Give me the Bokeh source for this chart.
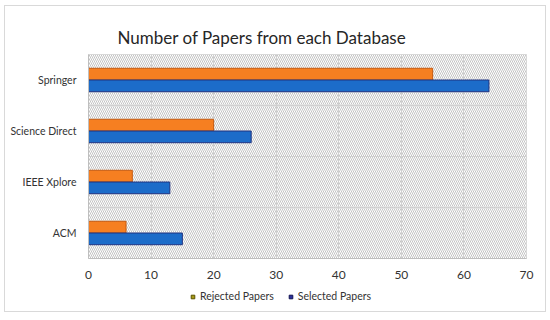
from bokeh.plotting import figure
from bokeh.layouts import column
from bokeh.models import Range1d, FixedTicker, BoxAnnotation, Legend, LegendItem, ColumnDataSource
from bokeh.embed import file_html
from bokeh.resources import INLINE

categories = ["ACM", "IEEE Xplore", "Science Direct", "Springer"]
rejected = [6, 7, 20, 55]
selected = [15, 13, 26, 64]
x_ticks = [0, 10, 20, 30, 40, 50, 60, 70]
series_names = ["Rejected Papers", "Selected Papers"]

FONT = "Lato"
TXT = "#333333"
pos = [i + 0.5 for i in range(len(categories))]

p = figure(width=540, height=276, output_backend="svg", toolbar_location=None,
           x_range=Range1d(0, 70), y_range=Range1d(0, 4),
           min_border_left=83, min_border_right=19, min_border_top=48, min_border_bottom=24)

p.title.text = "Number of Papers from each Database"
p.title.align = "left"
p.title.offset = 29
p.title.text_font = FONT
p.title.text_font_size = "17px"
p.title.text_font_style = "normal"
p.title.text_color = "#262626"
p.title.standoff = 14

# hatched background
bg = BoxAnnotation(left=0, right=70, bottom=0, top=4, fill_color="white", fill_alpha=1,
                   hatch_pattern="\\", hatch_color="#b5b5b5", hatch_scale=4, hatch_weight=0.8,
                   line_color=None, level="image")
p.add_layout(bg)

src = ColumnDataSource(dict(rej_pos=[q + 0.115 for q in pos], sel_pos=[q - 0.115 for q in pos],
                            rejected=rejected, selected=selected))
p.hbar(y="rej_pos", right="rejected", left=0, height=0.23, source=src,
       fill_color="#F67F21", line_color="#C55A11", line_width=1)
p.hbar(y="sel_pos", right="selected", left=0, height=0.23, source=src,
       fill_color="#1C6CC9", line_color="#1F3380", line_width=1)

p.xaxis.ticker = FixedTicker(ticks=x_ticks)
p.xaxis.axis_line_color = "#BFBFBF"
p.xaxis.major_tick_line_color = None
p.xaxis.minor_tick_line_color = None
p.xaxis.major_label_text_font = FONT
p.xaxis.major_label_text_font_size = "12px"
p.xaxis.major_label_text_color = TXT
p.xaxis.major_label_standoff = 6

p.yaxis.ticker = FixedTicker(ticks=pos)
p.yaxis.major_label_overrides = {q: c for q, c in zip(pos, categories)}
p.yaxis.axis_line_color = "#BFBFBF"
p.yaxis.major_tick_line_color = None
p.yaxis.minor_tick_line_color = None
p.yaxis.major_label_text_font = FONT
p.yaxis.major_label_text_font_size = "10.5px"
p.yaxis.major_label_text_color = TXT
p.yaxis.major_label_standoff = 6

p.xgrid.ticker = FixedTicker(ticks=x_ticks)
p.ygrid.ticker = FixedTicker(ticks=[1, 2, 3])
p.xgrid.grid_line_color = "#D0D0D0"
p.ygrid.grid_line_color = "#D0D0D0"
p.xgrid.level = "underlay"
p.ygrid.level = "underlay"

p.outline_line_color = "#D0D0D0"
p.border_fill_color = "white"
p.background_fill_color = "white"

# legend strip
lg = figure(width=540, height=29, output_backend="svg", toolbar_location=None,
            x_range=Range1d(0, 1), y_range=Range1d(0, 1),
            min_border_left=0, min_border_right=0, min_border_top=0, min_border_bottom=0)
lg.axis.visible = False
lg.grid.visible = False
lg.outline_line_color = None
nan = float("nan")
r1 = lg.scatter(x=[nan], y=[nan], marker="square", size=9, fill_color="#A89B14", line_color="#5A5200")
r2 = lg.scatter(x=[nan], y=[nan], marker="square", size=9, fill_color="#2B2F9E", line_color="#10124F")
legend = Legend(items=[LegendItem(label=series_names[0], renderers=[r1]),
                       LegendItem(label=series_names[1], renderers=[r2])],
                orientation="horizontal", location=(100, 9),
                label_text_font=FONT, label_text_font_size="10.5px", label_text_color=TXT,
                glyph_width=9, glyph_height=9, spacing=12, label_standoff=3,
                border_line_color=None, background_fill_alpha=0, padding=2, margin=0)
lg.add_layout(legend, "center")

layout = column(p, lg, spacing=0,
                styles={"border": "1px solid #d9d9d9", "margin-left": "4px", "margin-top": "5px"})

open("out.html", "w").write(file_html(layout, INLINE))
